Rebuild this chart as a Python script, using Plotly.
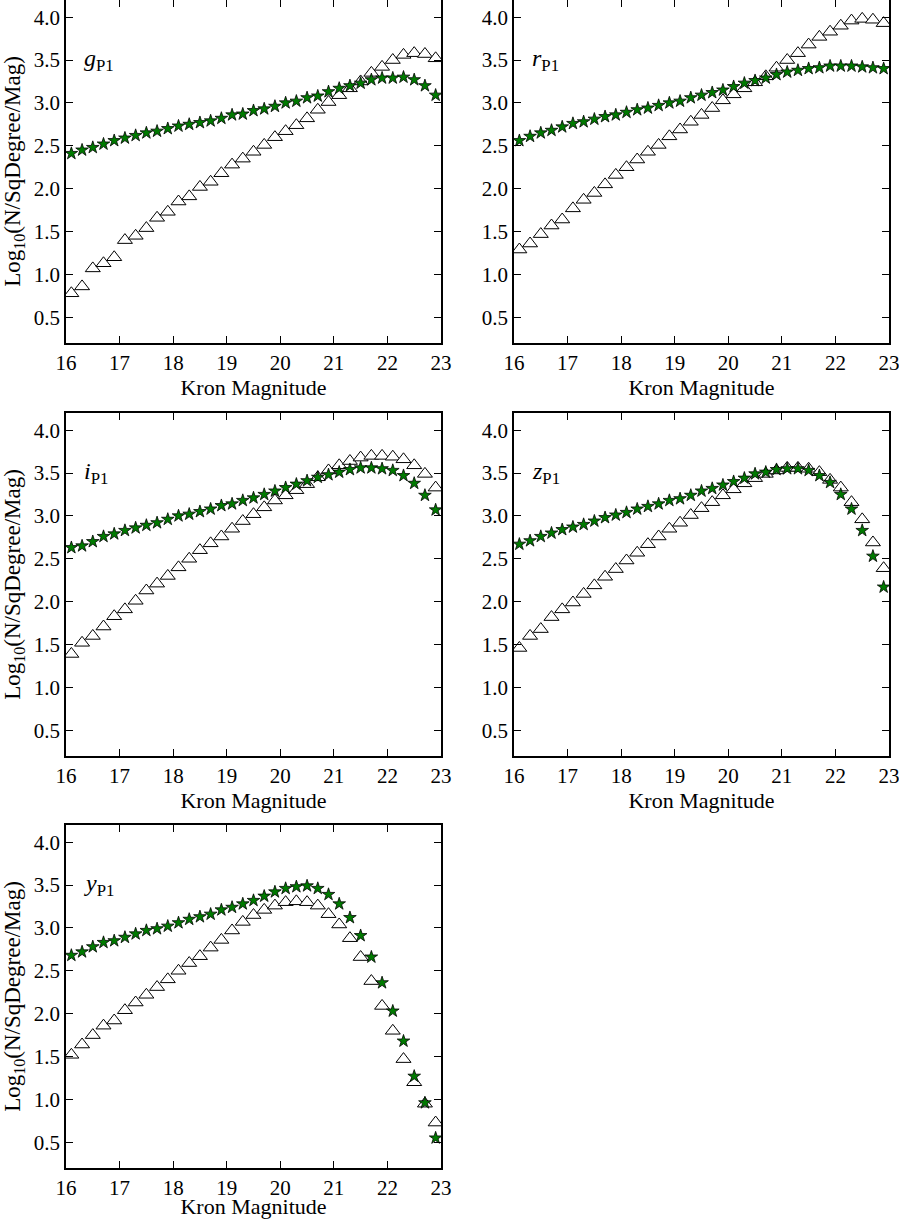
import plotly.graph_objects as go
from plotly.subplots import make_subplots

# Kron magnitude bin centres (16.1 ... 22.9, step 0.2)
mags = [16.1, 16.3, 16.5, 16.7, 16.9, 17.1, 17.3, 17.5, 17.7, 17.9,
        18.1, 18.3, 18.5, 18.7, 18.9, 19.1, 19.3, 19.5, 19.7, 19.9,
        20.1, 20.3, 20.5, 20.7, 20.9, 21.1, 21.3, 21.5, 21.7, 21.9,
        22.1, 22.3, 22.5, 22.7, 22.9]

g_stars = [2.41, 2.45, 2.48, 2.52, 2.56, 2.59, 2.62, 2.65, 2.67, 2.70,
           2.73, 2.75, 2.77, 2.79, 2.82, 2.86, 2.87, 2.91, 2.93, 2.96,
           3.00, 3.02, 3.06, 3.08, 3.13, 3.17, 3.20, 3.23, 3.27, 3.29,
           3.29, 3.30, 3.27, 3.20, 3.09]
g_tri = [0.78, 0.86, 1.07, 1.13, 1.20, 1.40, 1.45, 1.54, 1.66, 1.73,
         1.85, 1.91, 2.02, 2.08, 2.18, 2.28, 2.35, 2.43, 2.51, 2.60,
         2.67, 2.74, 2.82, 2.92, 3.01, 3.09, 3.17, 3.25, 3.35, 3.42,
         3.50, 3.56, 3.58, 3.57, 3.52]

r_stars = [2.56, 2.61, 2.65, 2.68, 2.72, 2.76, 2.78, 2.81, 2.84, 2.86,
           2.89, 2.92, 2.94, 2.97, 3.00, 3.02, 3.06, 3.09, 3.12, 3.15,
           3.19, 3.23, 3.26, 3.29, 3.33, 3.36, 3.38, 3.40, 3.41, 3.43,
           3.43, 3.43, 3.42, 3.41, 3.40]
r_tri = [1.29, 1.36, 1.47, 1.57, 1.64, 1.77, 1.87, 1.95, 2.05, 2.16,
         2.25, 2.34, 2.43, 2.51, 2.61, 2.69, 2.78, 2.86, 2.94, 3.03,
         3.10, 3.17, 3.24, 3.31, 3.41, 3.50, 3.58, 3.68, 3.77, 3.83,
         3.90, 3.96, 3.98, 3.97, 3.93]

i_stars = [2.63, 2.65, 2.70, 2.76, 2.79, 2.83, 2.86, 2.89, 2.92, 2.96,
           3.00, 3.02, 3.05, 3.08, 3.12, 3.14, 3.18, 3.21, 3.25, 3.29,
           3.33, 3.37, 3.41, 3.45, 3.48, 3.51, 3.54, 3.56, 3.56, 3.55,
           3.53, 3.47, 3.38, 3.24, 3.07]
i_tri = [1.39, 1.52, 1.60, 1.71, 1.83, 1.91, 2.01, 2.13, 2.21, 2.30,
         2.40, 2.50, 2.60, 2.68, 2.76, 2.85, 2.94, 3.02, 3.10, 3.18,
         3.24, 3.30, 3.37, 3.45, 3.53, 3.59, 3.64, 3.68, 3.70, 3.70,
         3.69, 3.66, 3.59, 3.49, 3.33]

z_stars = [2.67, 2.71, 2.76, 2.80, 2.84, 2.87, 2.90, 2.94, 2.98, 3.01,
           3.04, 3.08, 3.11, 3.14, 3.18, 3.20, 3.24, 3.29, 3.32, 3.36,
           3.40, 3.44, 3.49, 3.51, 3.54, 3.55, 3.55, 3.53, 3.47, 3.39,
           3.25, 3.08, 2.83, 2.53, 2.17]
z_tri = [1.46, 1.60, 1.68, 1.82, 1.91, 1.99, 2.09, 2.19, 2.29, 2.38,
         2.48, 2.57, 2.67, 2.76, 2.85, 2.92, 3.01, 3.09, 3.16, 3.24,
         3.31, 3.38, 3.44, 3.49, 3.53, 3.56, 3.56, 3.55, 3.51, 3.42,
         3.33, 3.16, 2.96, 2.69, 2.39]

y_stars = [2.68, 2.72, 2.78, 2.83, 2.85, 2.89, 2.93, 2.97, 2.99, 3.02,
           3.06, 3.10, 3.13, 3.16, 3.21, 3.24, 3.28, 3.32, 3.37, 3.42,
           3.46, 3.48, 3.49, 3.46, 3.39, 3.28, 3.12, 2.91, 2.66, 2.36,
           2.03, 1.68, 1.27, 0.96, 0.55]
y_tri = [1.52, 1.64, 1.75, 1.86, 1.92, 2.04, 2.13, 2.22, 2.31, 2.40,
         2.50, 2.59, 2.67, 2.77, 2.86, 2.97, 3.07, 3.15, 3.21, 3.26,
         3.30, 3.31, 3.30, 3.26, 3.16, 3.04, 2.88, 2.66, 2.38, 2.09,
         1.80, 1.47, 1.20, 0.95, 0.73]

bands = [("g", g_stars, g_tri), ("r", r_stars, r_tri), ("i", i_stars, i_tri),
         ("z", z_stars, z_tri), ("y", y_stars, y_tri)]

W, H = 899, 1219
cols_px = [(66, 441), (514, 889)]
rows_px = [(0, 343), (413, 756), (825, 1168)]

fig = make_subplots(rows=3, cols=2, specs=[[{}, {}], [{}, {}], [{}, None]])

font = "Liberation Serif, Times New Roman, serif"

for k, (band, stars, tri) in enumerate(bands):
    row, col = k // 2 + 1, k % 2 + 1
    fig.add_trace(go.Scatter(x=mags, y=tri, mode="markers",
                             marker=dict(symbol="triangle-up", size=13, color="white",
                                         line=dict(color="black", width=1))),
                  row=row, col=col)
    fig.add_trace(go.Scatter(x=mags, y=stars, mode="markers",
                             marker=dict(symbol="star", size=9.5, color="#007a00",
                                         line=dict(color="black", width=0.8))),
                  row=row, col=col)

    x0, x1 = cols_px[col - 1]
    y0, y1 = rows_px[row - 1]
    ax = dict(showline=True, linecolor="black", linewidth=1.6, mirror="ticks",
              ticks="inside", ticklen=7, tickwidth=1, tickcolor="black",
              showgrid=False, zeroline=False, automargin=False,
              ticklabeloverflow="allow",
              tickfont=dict(family=font, size=21, color="black"))
    fig.update_xaxes(ax, range=[16, 23], dtick=1, tick0=16,
                     domain=[x0 / W, x1 / W],
                     title=dict(text="Kron Magnitude", standoff=3,
                                font=dict(family=font, size=22, color="black")),
                     row=row, col=col)
    ytitle = "Log<sub>10</sub>(N/SqDegree/Mag)" if col == 1 else ""
    fig.update_yaxes(ax, range=[0.2, 4.2], dtick=0.5, tick0=0.5, tickformat=".1f",
                     domain=[1 - y1 / H, 1 - y0 / H],
                     title=dict(text=ytitle, standoff=8,
                                font=dict(family=font, size=23, color="black")),
                     row=row, col=col)

    xref = "x" if k == 0 else "x%d" % (k + 1)
    yref = "y" if k == 0 else "y%d" % (k + 1)
    fig.add_annotation(x=16.3, y=3.5, xref=xref, yref=yref, xanchor="left",
                       yanchor="middle", showarrow=False,
                       text="<i>%s</i><sub>P1</sub>" % band,
                       font=dict(family=font, size=24, color="black"))

fig.update_layout(width=W, height=H, margin=dict(l=0, r=0, t=0, b=0),
                  plot_bgcolor="white", paper_bgcolor="white", showlegend=False)

fig.write_html("out.html", config={"displayModeBar": False},
               post_script="document.body.style.margin='0';")
